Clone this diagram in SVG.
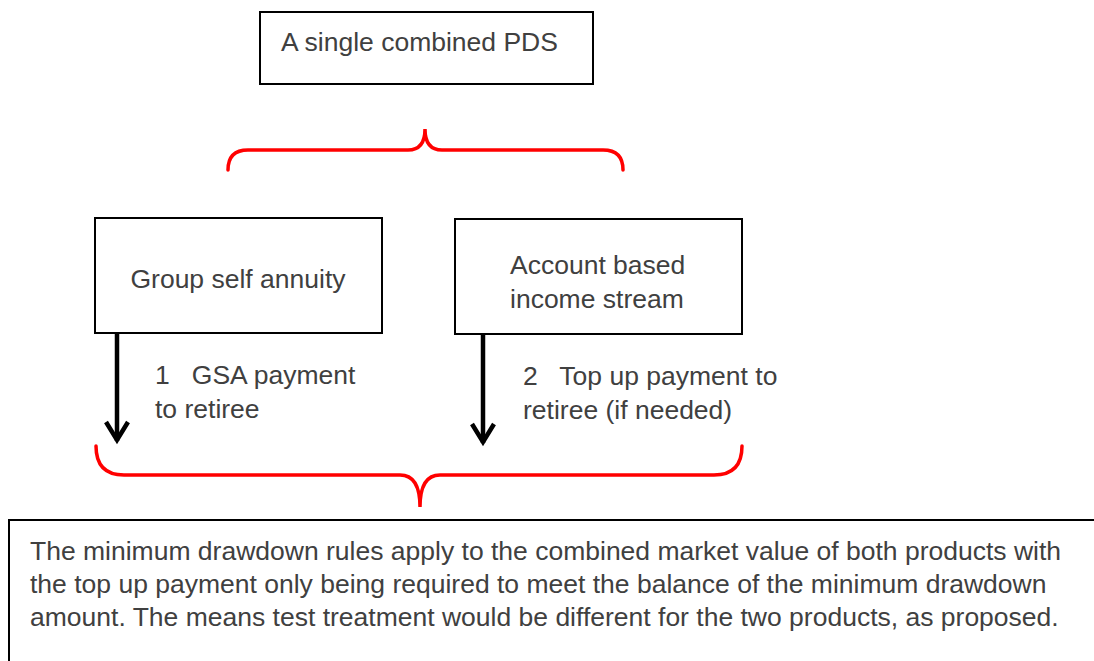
<svg xmlns="http://www.w3.org/2000/svg" width="1094" height="661" viewBox="0 0 1094 661">
<style>
.box{fill:#fff;stroke:#000;stroke-width:2}
.t{font-family:"Liberation Sans",Arial,sans-serif;font-size:26.5px;fill:#404040}
.brace{fill:none;stroke:#f00;stroke-width:3.5;stroke-linecap:round}
.arr{fill:none;stroke:#000;stroke-width:4.5}
</style>
<defs>
<marker id="ah" markerUnits="userSpaceOnUse" markerWidth="30" markerHeight="30" refX="22" refY="15" orient="auto" viewBox="0 0 30 30">
<path d="M3,4 L21,15 L3,26" fill="none" stroke="#000" stroke-width="4.5"/>
</marker>
</defs>
<g id="node-pds">
<rect class="box" x="260" y="12" width="333" height="72"/>
<text class="t" x="281" y="51">A single combined PDS</text>
</g>
<g id="node-gsa">
<rect class="box" x="95" y="218" width="287" height="115"/>
<text class="t" x="238" y="288" text-anchor="middle">Group self annuity</text>
</g>
<g id="node-abis">
<rect class="box" x="455" y="219" width="287" height="115"/>
<text class="t" x="510" y="274">Account based</text>
<text class="t" x="510" y="308">income stream</text>
</g>
<g id="node-note">
<rect class="box" x="9" y="520" width="1100" height="160"/>
<text class="t" x="30" y="560">The minimum drawdown rules apply to the combined market value of both products with</text>
<text class="t" x="30" y="593">the top up payment only being required to meet the balance of the minimum drawdown</text>
<text class="t" x="30" y="626">amount. The means test treatment would be different for the two products, as proposed.</text>
</g>
<g id="connectors">
<path class="brace" d="M228,170 Q228,150 248,150 H408 Q425,150 425,129 Q425,150 442,150 H603 Q623,150 623,170"/>
<path class="brace" d="M96,446 Q96,475 124,475 H400 Q420,475 420,507 Q420,475 440,475 H714 Q742,475 742,446"/>
<line class="arr" x1="117" y1="333" x2="117" y2="441" marker-end="url(#ah)"/>
<line class="arr" x1="483" y1="334" x2="483" y2="443" marker-end="url(#ah)"/>
<text class="t" x="155" y="384" xml:space="preserve">1   GSA payment</text>
<text class="t" x="155" y="418">to retiree</text>
<text class="t" x="523" y="385" xml:space="preserve">2   Top up payment to</text>
<text class="t" x="523" y="419">retiree (if needed)</text>
</g>
</svg>
